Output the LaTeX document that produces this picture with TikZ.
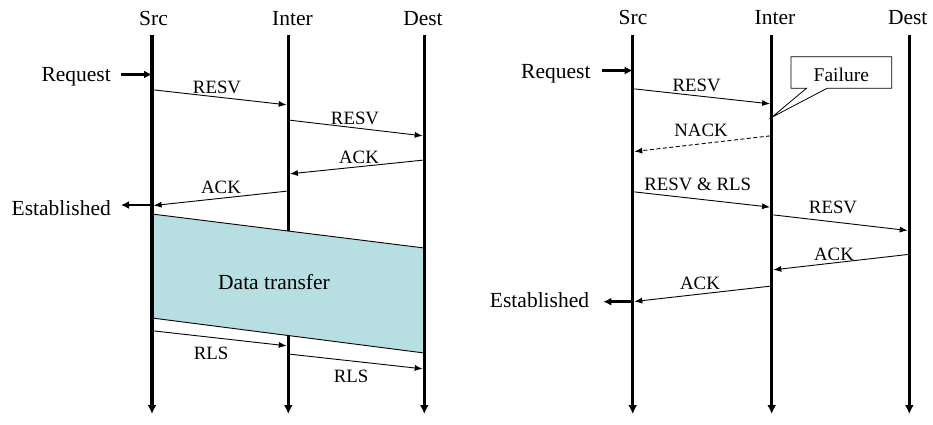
\documentclass[tikz,border=0pt]{standalone}
\usepackage{fontspec}
\setmainfont{Liberation Serif}
\usetikzlibrary{arrows.meta,shapes.callouts}

\definecolor{datacyan}{RGB}{183,222,225}

\begin{document}
\begin{tikzpicture}[x=1pt,y=-1pt,
    life/.style={line width=3.2pt,-{Latex[length=9pt,width=9pt]}},
    ev/.style={line width=2.6pt,-{Latex[length=8pt,width=8pt]}},
    msg/.style={line width=0.9pt,-{Latex[length=8pt,width=6pt]},
        shorten <=1.6pt,shorten >=1.6pt},
    head/.style={font=\fontsize{21.5}{21.5}\selectfont,inner sep=0pt,anchor=base},
    lbl/.style={font=\fontsize{18.8}{18.8}\selectfont,inner sep=0pt,anchor=base}
]
    \useasboundingbox (0,0) rectangle (933,424);

    % lifelines
    \foreach \n/\x in {ls/152,li/288.3,ld/424.3,rs/632.7,ri/771.7,rd/909.3}{
        \coordinate (\n T) at (\x,35);
        \coordinate (\n B) at (\x,414);
    }
    \node[head] (lsrc) at (153.5,25) {Src};
    \node[head] (linter) at (292.5,25) {Inter};
    \node[head] (ldest) at (423,25) {Dest};
    \node[head] (rsrc) at (633,24) {Src};
    \node[head] (rinter) at (775,24) {Inter};
    \node[head] (rdest) at (907.7,24) {Dest};

    \draw[life] (liT) -- (liB);
    % data transfer band
    \fill[datacyan] (lsT |- 0,214) -- (ldT |- 0,248) -- (ldT |- 0,353) -- (lsT |- 0,318) -- cycle;
    \draw[line width=0.9pt] (lsT |- 0,214) -- (ldT |- 0,248)
        (lsT |- 0,318) -- (ldT |- 0,353);
    \node[head,anchor=base] (data) at (274,289.3) {Data transfer};
    \foreach \n in {ls,ld,rs,ri,rd}
        \draw[life] (\n T) -- (\n B);

    % left: normal setup
    \node[head,anchor=base east] (lreq) at (111,81.5) {Request};
    \draw[ev] (121,74.5) coordinate (lreqA) -- (lsT |- lreqA);
    \draw[msg] (lsT |- 0,89.7) -- (liT |- 0,105);
    \node[lbl] (lresv1) at (217,93) {RESV};
    \draw[msg] (liT |- 0,120) -- (ldT |- 0,136);
    \node[lbl] (lresv2) at (355,124) {RESV};
    \draw[msg] (ldT |- 0,160) -- (liT |- 0,174);
    \node[lbl] (lack1) at (359,163) {ACK};
    \draw[msg] (liT |- 0,191) -- (lsT |- 0,205.7);
    \node[lbl] (lack2) at (221,193) {ACK};
    \node[head,anchor=base east] (lest) at (111,215) {Established};
    \coordinate (lestA) at (121,205);
    \draw[ev] (lsT |- lestA) -- (lestA);
    \draw[msg] (lsT |- 0,330.7) -- (liT |- 0,346);
    \node[lbl] (lrls1) at (211,359.3) {RLS};
    \draw[msg] (liT |- 0,354) -- (ldT |- 0,369);
    \node[lbl] (lrls2) at (351,382.7) {RLS};

    % right: failure and retry
    \node[head,anchor=base east] (rreq) at (590.7,78) {Request};
    \draw[ev] (601.7,70.5) coordinate (rreqA) -- (rsT |- rreqA);
    \draw[msg] (rsT |- 0,88.7) -- (riT |- 0,104);
    \node[lbl] (rresv1) at (696.7,91.7) {RESV};
    \node[draw,line width=0.8pt,rectangle callout,anchor=center,
        minimum width=100.7pt,minimum height=31.6pt,inner sep=0pt,
        text height=18.4pt,text depth=0pt,callout pointer width=20.6pt,
        callout absolute pointer={(riT |- 0,117.3)},
        font=\fontsize{19.5}{19.5}\selectfont] (fail) at (841.3,72.5) {Failure};
    \draw[msg,dash pattern=on 4pt off 2.5pt] (riT |- 0,135.7) -- (rsT |- 0,151.7);
    \node[lbl] (rnack) at (701,136.7) {NACK};
    \draw[msg] (rsT |- 0,191.7) -- (riT |- 0,207.3);
    \node[lbl] (rresvrls) at (697.7,190) {RESV \& RLS};
    \draw[msg] (riT |- 0,214.7) -- (rdT |- 0,230.7);
    \node[lbl] (rresv2) at (833,213.3) {RESV};
    \draw[msg] (rdT |- 0,254.3) -- (riT |- 0,270);
    \node[lbl] (rack1) at (834,260) {ACK};
    \draw[msg] (riT |- 0,286) -- (rsT |- 0,301.7);
    \node[lbl] (rack2) at (700,289.3) {ACK};
    \node[head,anchor=base east] (rest) at (589.3,307.3) {Established};
    \coordinate (restA) at (603.3,301.7);
    \draw[ev] (rsT |- restA) -- (restA);
\end{tikzpicture}
\end{document}
